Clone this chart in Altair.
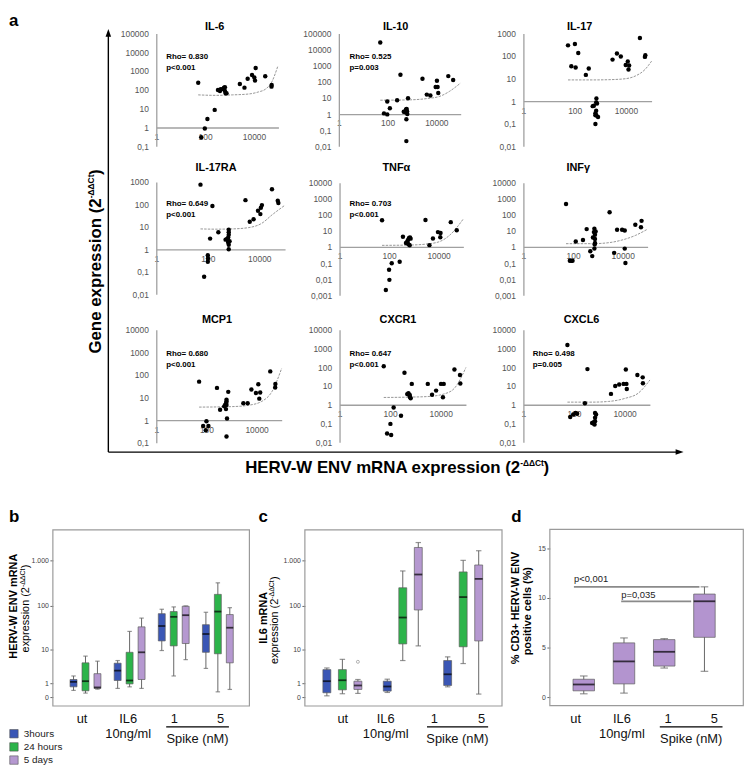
import json
import math
import altair as alt
import pandas as pd

FONT = "Liberation Sans"
W, H = 736, 756

# ---------------- panel a : data ----------------
PANELS = ["IL-6", "IL-10", "IL-17", "IL-17RA", "TNFα", "INFγ", "MCP1", "CXCR1", "CXCL6"]
Y_DOMAINS = [(0.1, 100000), (0.01, 100000), (0.01, 1000), (0.01, 1000), (0.001, 10000),
             (0.001, 10000), (0.1, 10000), (0.01, 10000), (0.01, 10000)]
X_DOMAIN = (1, 100000)
X_TICKS = [1, 100, 10000]
RHO_LINES = ["Rho= 0.830", "Rho= 0.525", "", "Rho= 0.649", "Rho= 0.703", "", "Rho= 0.680", "Rho= 0.647", "Rho= 0.498"]
P_LINES = ["p<0.001", "p=0.003", "", "p<0.001", "p<0.001", "", "p<0.001", "p<0.001", "p=0.005"]

IL6_X = [52, 97, 69, 124, 246, 335, 433, 537, 590, 646, 690, 750, 646, 405, 2630, 4070, 5500, 8300, 10300, 11000, 11700, 28800, 52000, 53000]
IL6_Y = [240, 0.89, 0.30, 2.8, 8.6, 98, 107, 111, 131, 87, 66, 66, 136, 87, 204, 131, 390, 617, 457, 309, 1445, 525, 148, 182]
IL10_X = [50, 71, 97, 97, 124, 246, 337, 460, 537, 570, 605, 630, 645, 590, 690, 590, 2700, 4070, 5700, 9400, 10600, 11300, 12000, 31000, 49000]
IL10_Y = [27500, 1.1, 0.95, 6.0, 2.3, 7.2, 270, 1.4, 1.3, 1.9, 2.1, 1.5, 1.0, 0.47, 9.6, 0.021, 155, 16, 14, 48, 117, 48, 20, 225, 128]
IL17_X = [55, 102, 138, 74, 109, 273, 355, 705, 745, 690, 560, 505, 690, 645, 705, 815, 645, 645, 3000, 4450, 6300, 9800, 11800, 12600, 13300, 35000, 55000, 57000]
IL17_Y = [295, 340, 136, 35, 31, 14.5, 28, 1.3, 0.79, 0.87, 0.62, 0.6, 0.38, 0.29, 0.23, 0.2, 0.24, 0.098, 69, 128, 94, 40, 57, 25, 38, 620, 91, 108]
IL17RA_X = [52, 151, 123, 257, 100, 102, 100, 72, 490, 560, 620, 650, 650, 650, 700, 620, 650, 650, 600, 2900, 4260, 6000, 8900, 11000, 11500, 12600, 31000, 52000, 55000]
IL17RA_Y = [760, 85, 3.0, 5.8, 0.55, 0.39, 0.28, 0.06, 2.7, 2.9, 3.4, 4.4, 5.8, 7.4, 2.3, 2.0, 1.6, 1.0, 2.6, 155, 17, 22, 52, 37, 71, 93, 475, 145, 115]
TNF_X = [52, 128, 100, 103, 74, 268, 363, 480, 540, 590, 640, 700, 740, 630, 680, 580, 2950, 4260, 5900, 9400, 12000, 11700, 31000, 54000]
TNF_Y = [46, 0.098, 0.038, 0.009, 0.0021, 0.12, 4.3, 1.76, 2.2, 2.8, 3.6, 3.9, 3.3, 1.4, 1.27, 1.6, 48, 1.3, 3.4, 8.4, 7.3, 4.0, 35, 11]
INF_X = [52, 74, 85, 95, 128, 250, 352, 493, 590, 630, 690, 720, 760, 760, 740, 720, 760, 810, 2950, 4500, 5900, 9400, 12000, 12000, 12800, 32000, 54000, 57000]
INF_Y = [470, 0.14, 0.14, 0.14, 2.2, 2.7, 12.9, 0.54, 0.27, 3.9, 8.4, 13.5, 5.8, 1.76, 1.4, 0.79, 3.1, 9.2, 144, 0.43, 11.7, 11.7, 10.6, 0.79, 0.10, 24, 17, 42]
MCP1_X = [51, 74, 100, 120, 94, 263, 350, 510, 560, 610, 630, 630, 630, 600, 660, 630, 740, 2960, 4400, 6200, 9400, 11700, 13900, 12800, 35000, 55000, 56000]
MCP1_Y = [51, 0.55, 0.9, 0.55, 0.36, 27, 2.9, 4.1, 4.9, 5.8, 8.1, 6.8, 4.7, 3.1, 1.2, 0.19, 18, 5.6, 5.6, 23, 16, 39, 17, 9, 145, 28, 40]
CXCR1_X = [56, 138, 103, 76, 110, 270, 370, 475, 530, 590, 620, 650, 590, 720, 3100, 4560, 6600, 10300, 13200, 12300, 35000, 58000, 60000]
CXCR1_Y = [115, 0.72, 0.095, 0.029, 0.024, 0.26, 51, 3.7, 4.1, 3.0, 2.5, 2.2, 3.4, 13, 13, 3.4, 5.7, 13, 13, 2.5, 77, 39, 13.5]
CXCL6_X = [55, 340, 270, 71, 93, 116, 133, 520, 600, 650, 680, 680, 745, 680, 600, 2900, 4260, 6100, 9100, 11200, 11800, 12200, 32000, 52000, 53000]
CXCL6_Y = [1550, 80, 1.2, 0.22, 0.3, 0.36, 0.33, 0.107, 0.099, 0.087, 0.13, 0.2, 0.3, 0.36, 0.117, 3.8, 10, 12, 13, 77, 13, 7, 39, 29, 14]

# trend lines
IL6_TX = [52, 270, 1300, 6000, 15500, 29000, 54000, 93000]
IL6_TY = [54, 51, 54, 60, 78, 107, 270, 1700]
IL10_TX = [50, 850, 4100, 14000, 35000, 98000]
IL10_TY = [7.2, 7.6, 9.1, 12.6, 25.7, 83]
IL17_TX = [55, 480, 2100, 9300, 23000, 55000, 100000]
IL17_TY = [8.7, 8.7, 8.9, 9.8, 12.9, 25, 59]
IL17RA_TX = [52, 200, 890, 3900, 12600, 31000, 100000]
IL17RA_TY = [8.1, 7.9, 8.1, 9.3, 14.5, 34, 93]
TNF_TX = [52, 740, 3400, 11700, 29500, 100000]
TNF_TY = [1.26, 1.32, 1.53, 2.24, 5.8, 56]
INF_TX = [52, 590, 2750, 9300, 32000, 100000]
INF_TY = [1.6, 1.6, 1.85, 2.7, 5.2, 12.9]
MCP1_TX = [51, 1070, 4800, 16000, 41000, 100000]
MCP1_TY = [3.8, 4.0, 4.6, 6.8, 18.6, 200]
CXCR1_TX = [56, 680, 3100, 13800, 35000, 100000]
CXCR1_TY = [2.45, 2.57, 2.75, 3.8, 7.6, 98]
CXCL6_TX = [55, 520, 2300, 10500, 35000, 100000]
CXCL6_TY = [1.38, 1.38, 1.5, 2.2, 4.2, 21]

SCATTER = [(IL6_X, IL6_Y), (IL10_X, IL10_Y), (IL17_X, IL17_Y), (IL17RA_X, IL17RA_Y), (TNF_X, TNF_Y),
           (INF_X, INF_Y), (MCP1_X, MCP1_Y), (CXCR1_X, CXCR1_Y), (CXCL6_X, CXCL6_Y)]
TRENDS = [(IL6_TX, IL6_TY), (IL10_TX, IL10_TY), (IL17_TX, IL17_TY), (IL17RA_TX, IL17RA_TY), (TNF_TX, TNF_TY),
          (INF_TX, INF_TY), (MCP1_TX, MCP1_TY), (CXCR1_TX, CXCR1_TY), (CXCL6_TX, CXCL6_TY)]

# ---------------- panels b, c, d : box statistics ----------------
TIMES = ["3hours", "24 hours", "5 days"]
TIME_COLORS = ["#3a56b5", "#2cb44a", "#b598d0"]
GROUPS = ["ut", "IL6\n10ng/ml", "1", "5"]
GROUP_KEYS = ["ut", "IL6", "1", "5"]

B_GROUP = ["ut", "ut", "ut", "IL6", "IL6", "IL6", "1", "1", "1", "5", "5", "5"]
B_TIME = TIMES * 4
B_LO = [0.42, 0.24, 0.51, 0.57, 0.70, 0.57, 9.6, 1.94, 5.7, 3.3, 0.32, 0.49]
B_Q1 = [0.70, 0.39, 0.57, 1.34, 0.97, 1.46, 16.2, 12.4, 14.1, 8.7, 8.0, 4.7]
B_MED = [1.18, 1.26, 0.65, 2.85, 1.34, 8.7, 35.5, 57, 62, 23.4, 74.6, 32.5]
B_Q3 = [1.46, 4.7, 2.3, 4.6, 8.7, 34, 67, 74.6, 98, 38, 179, 64]
B_HI = [1.94, 7.0, 5.2, 5.4, 26.8, 53.4, 84, 94.6, 99.5, 72, 321, 91]

C_CLUSTERS = ["ut", "1", "5"]
C_GROUP = ["ut", "ut", "ut", "1", "1", "1", "5", "5", "5"]
C_TIME = TIMES * 3
C_LO = [0.08, 0.2, 0.22, 0.28, 5.4, 12.4, 0.70, 4.5, 0.18]
C_Q1 = [0.26, 0.46, 0.49, 0.37, 13.8, 81, 0.82, 11.8, 16.2]
C_MED = [1.26, 1.37, 0.82, 0.73, 55, 489, 2.2, 156, 392]
C_Q3 = [3.05, 3.05, 1.26, 1.26, 250, 1913, 5.4, 557, 791]
C_HI = [3.4, 5.8, 1.46, 1.5, 585, 2454, 6.7, 999, 1624]
C_OUT_GROUP = ["ut"]
C_OUT_TIME = ["5 days"]
C_OUT_VALUE = [5.0]

D_GROUP = ["ut", "IL6", "1", "5"]
D_TIME = ["5 days"] * 4
D_LO = [0.33, 0.4, 2.93, 2.6]
D_Q1 = [0.63, 1.33, 3.13, 6.03]
D_MED = [1.27, 3.6, 4.57, 9.67]
D_Q3 = [1.8, 5.47, 5.8, 10.4]
D_HI = [2.13, 5.97, 5.9, 11.13]
D_PVALUES = ["p<0,001", "p=0,035"]

LOG_TICKS = [0, 1, 10, 100, 1000]
D_TICKS = [0, 5, 10, 15]

# ---------------- layout (svg pixels) ----------------
PANEL_X = [(148.7, 272), (333, 456), (519.3, 648.7), (148.7, 278.7), (333.7, 458.7), (519.3, 644.7),
           (148.7, 275.3), (333.7, 461.3), (519.3, 647)]
PANEL_Y = [(22, 136), (22, 136), (22, 136), (172, 285.3), (172.7, 286.3), (172.7, 286.3),
           (321.3, 435.3), (321.3, 434.7), (321.3, 434.7)]
TITLE_POS = [(207.7, 16), (390.3, 16), (576, 16), (209, 157.5), (391, 157.5), (574.7, 157.5),
             (210, 311), (392.7, 311), (578, 311)]
RHO_POS = [(158.7, 46), (343.7, 46), (528.7, 46), (158.7, 194.7), (343.7, 194.7), (528.7, 194.7),
           (158.7, 345.3), (343.7, 345.3), (528.7, 345.3)]

ONE = alt.Data(values=[{"k": 1}])


def one():
    return alt.Chart(ONE)


def text_at(s, x, y, size, weight="normal", align="left", baseline="alphabetic",
            angle=0, dx=0, dy=0, color="#000000", **extra):
    props = dict(text=s, fontSize=size, fontWeight=weight, align=align, baseline=baseline,
                 font=FONT, color=color)
    if angle:
        props["angle"] = angle
    if dx:
        props["dx"] = dx
    if dy:
        props["dy"] = dy
    props.update(extra)
    return one().mark_text(**props).encode(x=alt.value(x), y=alt.value(y))


def hrule(x1, x2, y, color="#000000", width=1.0):
    return one().mark_rule(color=color, strokeWidth=width).encode(
        x=alt.value(x1), x2=alt.value(x2), y=alt.value(y))


def vrule(x, y1, y2, color="#000000", width=1.0):
    return one().mark_rule(color=color, strokeWidth=width).encode(
        x=alt.value(x), y=alt.value(y1), y2=alt.value(y2))


layers = []

# ---------------- panel a frame ----------------
layers.append(text_at("a", 0, 15, 17, "bold"))
layers.append(vrule(100.3, 24, 444.7, width=1.4))
layers.append(hrule(100.3, 675, 444.7, width=1.4))
layers.append(one().mark_point(shape="M-0.7,1L0,-1L0.7,1Z", filled=True, size=64, color="black",
                               opacity=1).encode(x=alt.value(100.3), y=alt.value(21.5)))
layers.append(one().mark_point(shape="M-1,-0.7L1,0L-1,0.7Z", filled=True, size=64, color="black",
                               opacity=1).encode(x=alt.value(677), y=alt.value(444.7)))
# y label of panel a (rotated)
layers.append(text_at("Gene expression (2", 92.5, 188.5, 17, "bold", align="right", angle=270))
layers.append(text_at("-ΔΔCt", 92.5, 188.5, 8.5, "bold", align="left", angle=270, dy=-7))
layers.append(text_at(")", 92.5, 188.5, 17, "bold", align="left", angle=270, dx=23.5))
# x label of panel a
layers.append(text_at("HERV-W ENV mRNA expression (2", 516, 465.5, 17, "bold", align="right"))
layers.append(text_at("-ΔΔCt", 516, 458.5, 8.5, "bold", align="left"))
layers.append(text_at(")", 539.5, 465.5, 17, "bold", align="left"))

# ---------------- scatter panels ----------------
for i, name in enumerate(PANELS):
    xs, ys = SCATTER[i]
    tx, ty = TRENDS[i]
    x0, x1 = PANEL_X[i]
    ytop, ybot = PANEL_Y[i]
    ylo, yhi = Y_DOMAINS[i]
    frac = (0 - math.log10(ylo)) / (math.log10(yhi) - math.log10(ylo))
    y_one = ybot - frac * (ybot - ytop)
    yticks = [t for t in [0.001, 0.01, 0.1, 1, 10, 100, 1000, 10000, 100000] if ylo <= t <= yhi]

    xscale = alt.Scale(type="log", domain=list(X_DOMAIN), range=[x0, x1], nice=False)
    yscale = alt.Scale(type="log", domain=[ylo, yhi], range=[ybot, ytop], nice=False)
    xaxis = alt.Axis(orient="bottom", offset=y_one - H, values=X_TICKS, labelExpr="toString(datum.value)",
                     ticks=False, labelFlush=False, labelOverlap=False, domainColor="#a0a0a0", domainWidth=1.3,
                     labelColor="#555555", labelFontSize=8.5, labelPadding=5, title=None, grid=False,
                     labelFont=FONT)
    yaxis = alt.Axis(orient="left", offset=-x0, values=yticks,
                     labelExpr="replace(toString(datum.value), '.', ',')",
                     ticks=False, labelOverlap=False, domainColor="#a0a0a0", domainWidth=1.3,
                     labelColor="#555555", labelFontSize=8.5, labelPadding=8, title=None, grid=False,
                     labelFont=FONT)
    pts = alt.Chart(pd.DataFrame({"x": xs, "y": ys})).mark_circle(size=20, color="black", opacity=1).encode(
        x=alt.X("x:Q", scale=xscale, axis=xaxis), y=alt.Y("y:Q", scale=yscale, axis=yaxis))
    trend = alt.Chart(pd.DataFrame({"x": tx, "y": ty})).mark_line(
        color="#8a8a8a", strokeWidth=0.9, strokeDash=[2.5, 1.2], interpolate="monotone").encode(
        x=alt.X("x:Q", scale=xscale, axis=xaxis), y=alt.Y("y:Q", scale=yscale, axis=yaxis))
    layers.append(alt.layer(trend, pts))

    tx_, ty_ = TITLE_POS[i]
    layers.append(text_at(name, tx_, ty_, 11, "bold", align="center", baseline="middle"))
    if RHO_LINES[i]:
        rx, ry = RHO_POS[i]
        layers.append(text_at(RHO_LINES[i], rx, ry, 8, "bold", baseline="middle"))
        layers.append(text_at(P_LINES[i], rx, ry + 11, 8, "bold", baseline="middle"))


# ---------------- box panels ----------------
def box_layers(df, pos_expr, xdom, xrng, yscale, yaxis, box_w, cap_w, color):
    base = alt.Chart(df).transform_calculate(xpos=pos_expr)
    xs = alt.Scale(domain=xdom, range=xrng, nice=False, zero=False)
    X = alt.X("xpos:Q", scale=xs, axis=None)
    whisk = base.mark_rule(color="#666666", strokeWidth=1).encode(
        x=X, y=alt.Y("lo:Q", scale=yscale, axis=yaxis), y2="hi:Q")
    box = base.mark_bar(orient="vertical", size=box_w, stroke="#5e5e5e", strokeWidth=0.7).encode(
        x=X, y=alt.Y("q1:Q", scale=yscale, axis=yaxis), y2="q3:Q", color=color)
    caps = [base.mark_tick(orient="horizontal", size=cap_w, thickness=1.2, color="#666666").encode(
        x=X, y=alt.Y(f + ":Q", scale=yscale, axis=yaxis)) for f in ("lo", "hi")]
    med = base.mark_tick(orient="horizontal", size=box_w, thickness=1.8, color="black").encode(
        x=X, y=alt.Y("med:Q", scale=yscale, axis=yaxis))
    return [whisk, box] + caps + [med], X


legend = alt.Legend(orient="none", legendX=0, legendY=724, title=None, symbolType="square", symbolSize=72,
                    symbolStrokeColor="#555555", symbolStrokeWidth=0.6, labelFontSize=10, labelFont=FONT,
                    labelColor="#222222", rowPadding=1.3, labelOffset=5)
color_enc = alt.Color("time:N", scale=alt.Scale(domain=TIMES, range=TIME_COLORS), legend=legend)

FRAME_Y = (523.3, 701)


def log_axis(x0):
    return alt.Axis(orient="left", offset=-x0, values=LOG_TICKS,
                    labelExpr="datum.value >= 1000 ? '1.000' : toString(datum.value)",
                    domain=False, ticks=True, tickSize=3, tickColor="#666666", labelFontSize=7,
                    labelColor="#444444", labelPadding=1.5, title=None, grid=False, labelFont=FONT,
                    labelOverlap=False)


def log_scale():
    return alt.Scale(type="symlog", constant=1, domain=[-0.545, 4630], range=[701, 523.3], nice=False, zero=False)


def frame(x0, x1, y0, y1):
    return one().mark_rect(fillOpacity=0, stroke="#9a9a9a", strokeWidth=1.2).encode(
        x=alt.value(x0), x2=alt.value(x1), y=alt.value(y0), y2=alt.value(y1))


def cat_labels(xs, line_x, spike_x):
    out = []
    for g, x in zip(GROUPS, xs):
        out.append(text_at(g, x, 718.6, 13, align="center", lineBreak="\n", lineHeight=14.4, color="#111111"))
    out.append(hrule(line_x[0], line_x[1], 722, width=1.3))
    out.append(text_at("Spike (nM)", spike_x, 738.6, 13, align="center", color="#111111"))
    return out


# panel b
b_df = pd.DataFrame({"group": B_GROUP, "time": B_TIME, "lo": B_LO, "q1": B_Q1, "med": B_MED, "q3": B_Q3, "hi": B_HI})
b_expr = "indexof(%s, datum.group) + (indexof(%s, datum.time) - 1) * 0.271" % (json.dumps(GROUP_KEYS), json.dumps(TIMES))
layers.append(frame(44.3, 242.7, *FRAME_Y))
b_parts, _ = box_layers(b_df, b_expr, [-0.627, 3.603], [44.3, 242.7], log_scale(), log_axis(44.3), 7, 4.5, color_enc)
layers.append(alt.layer(*b_parts))
layers.append(text_at("b", 0, 515.3, 17, "bold"))
layers.append(text_at("HERV-W ENV mRNA", 8.5, 600.3, 11, "bold", align="center", angle=270))
layers.append(text_at("expression (2", 20, 581, 11, align="right", angle=270))
layers.append(text_at("-ΔΔCt", 20, 581, 7, align="left", angle=270, dy=-4))
layers.append(text_at(")", 20, 581, 11, align="left", angle=270, dx=19))
layers += cat_labels([73.7, 120.3, 167, 213.7], (158.7, 222), 190.3)

# panel c
c_df = pd.DataFrame({"group": C_GROUP, "time": C_TIME, "lo": C_LO, "q1": C_Q1, "med": C_MED, "q3": C_Q3, "hi": C_HI})
c_expr = "indexof(%s, datum.group) + (indexof(%s, datum.time) - 1) * 0.257" % (json.dumps(C_CLUSTERS), json.dumps(TIMES))
layers.append(frame(298.7, 497.7, *FRAME_Y))
c_scale = log_scale()
c_axis = log_axis(298.7)
c_parts, c_X = box_layers(c_df, c_expr, [-0.539, 2.561], [298.7, 497.7], c_scale, c_axis, 8, 5.5, color_enc)
c_out = alt.Chart(pd.DataFrame({"group": C_OUT_GROUP, "time": C_OUT_TIME, "value": C_OUT_VALUE})).transform_calculate(
    xpos=c_expr).mark_point(filled=False, size=9, color="#777777", strokeWidth=0.8).encode(
    x=c_X, y=alt.Y("value:Q", scale=c_scale, axis=c_axis))
layers.append(alt.layer(*c_parts, c_out))
layers.append(text_at("c", 252, 515, 17, "bold"))
layers.append(text_at("IL6 mRNA", 260, 612, 11, "bold", align="center", angle=270))
layers.append(text_at("expression (2", 271.6, 592.7, 11, align="right", angle=270))
layers.append(text_at("-ΔΔCt", 271.6, 592.7, 7, align="left", angle=270, dy=-4))
layers.append(text_at(")", 271.6, 592.7, 11, align="left", angle=270, dx=19))
layers += cat_labels([337, 380.3, 429.3, 477], (422, 483.7), 452.7)

# panel d
d_df = pd.DataFrame({"group": D_GROUP, "time": D_TIME, "lo": D_LO, "q1": D_Q1, "med": D_MED, "q3": D_Q3, "hi": D_HI})
d_expr = "indexof(%s, datum.group)" % json.dumps(GROUP_KEYS)
d_scale = alt.Scale(domain=[-0.87, 16.93], range=[700.7, 522.7], nice=False, zero=False)
d_axis = alt.Axis(orient="left", offset=-546, values=D_TICKS, domain=False, ticks=True, tickSize=3,
                  tickColor="#666666", labelFontSize=7, labelColor="#444444", labelPadding=1.5, title=None,
                  grid=False, labelFont=FONT)
layers.append(frame(546, 741.3, 522.7, 700.7))
d_parts, _ = box_layers(d_df, d_expr, [-0.72, 3.843], [546, 741.3], d_scale, d_axis, 21.7, 7.7,
                        alt.value("#b394cf"))
layers.append(alt.layer(*d_parts))
layers.append(hrule(570.3, 697, 580.7, color="#8a8a8a", width=1.8))
layers.append(hrule(618, 688.7, 595.3, color="#8a8a8a", width=1.8))
layers.append(text_at(D_PVALUES[0], 570.3, 575.4, 9.5, color="#222222"))
layers.append(text_at(D_PVALUES[1], 618, 592, 9.5, color="#222222"))
layers.append(text_at("d", 507, 515, 17, "bold"))
layers.append(text_at("% CD3+ HERV-W ENV", 515, 602, 11, "bold", align="center", angle=270))
layers.append(text_at("positive cells (%)", 526.7, 605.3, 11, "bold", align="center", angle=270))
layers += cat_labels([572, 618.7, 665.3, 712], (657, 720.3), 688.7)

chart = alt.layer(*layers).resolve_scale(x="independent", y="independent").properties(
    width=W, height=H, padding=0
).configure(font=FONT).configure_view(stroke=None).configure_axis(grid=False)

chart.save("out.html", embed_options={"renderer": "svg", "actions": False})
